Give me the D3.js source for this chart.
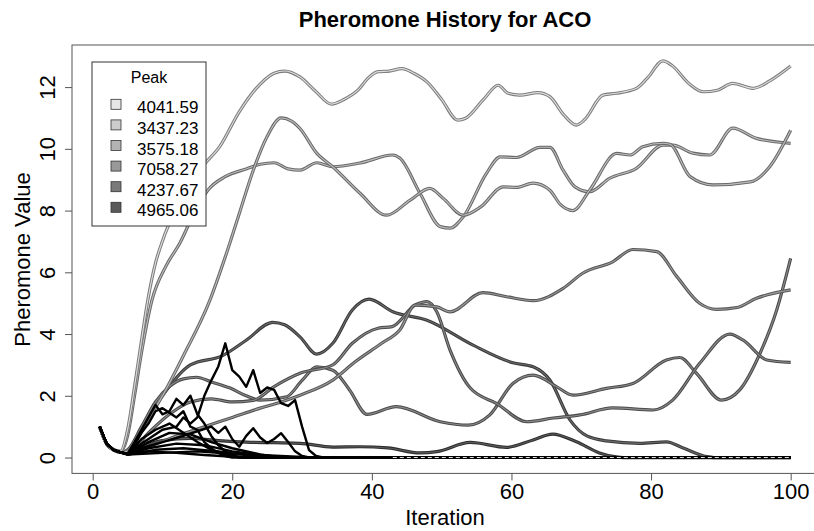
<!DOCTYPE html>
<html>
<head>
<meta charset="utf-8">
<script src="https://cdn.jsdelivr.net/npm/d3@7"></script>
<style>
  body { margin: 0; background: #fff; }
  text { font-family: "Liberation Sans", Arial, Helvetica, sans-serif; }
</style>
</head>
<body>
<div id="chart"></div>
<script>
// [iteration, pheromone] pairs
const topSeries = [[1,1],[2,.45],[3,.25],[4,.2],[5,.9],[6,2.3],[7,3.8],[7.9,5.1],[9,6.3],[9.9,6.95],[11,7.6],[12.5,8.3],[14,8.9],[16,9.5],[18.2,10.07],[21,11.2],[24,12.1],[26,12.45],[27.5,12.52],[29.7,12.33],[32,11.85],[34.2,11.45],[36,11.6],[38,11.9],[39.5,12.3],[40.9,12.5],[42.5,12.52],[44.3,12.6],[46,12.45],[47.9,12.17],[50,11.6],[52.3,10.93],[53.5,11.0],[56,11.6],[58.1,12.06],[59.5,11.8],[61.2,11.74],[63.8,11.82],[65.5,11.69],[67.5,11.1],[69.3,10.77],[70.5,10.95],[73.1,11.74],[75,11.8],[77.9,11.96],[79.5,12.3],[81.7,12.85],[83,12.7],[85.5,12.1],[87.5,11.85],[89.5,11.9],[91.7,12.12],[94.6,11.96],[97,12.2],[100,12.68]];
const secondSeries = [[1,1],[2,.45],[3,.25],[4,.18],[5,.2],[7,.9],[10,2.0],[13,3.3],[16.8,5.1],[19,6.5],[21,7.9],[23,9.3],[25,10.4],[27,11.0],[28.5,10.9],[29.7,10.66],[32.1,9.86],[34.4,9.42],[38.3,8.56],[42.1,7.85],[45.5,8.34],[48.3,8.72],[50.2,8.4],[53.1,7.85],[55.6,8.12],[58.8,8.77],[60.7,8.75],[63.1,8.89],[65.5,8.66],[67,8.2],[68.8,8.0],[71.2,8.66],[75.1,9.85],[77,9.8],[78.8,10.07],[81.7,10.18],[82.7,10.15],[85.6,9.1],[88.9,8.83],[94.2,8.93],[97,9.42],[100,10.6]];
const thirdSeries = [[1,1],[2,.45],[3,.25],[4,.2],[5,.7],[6,2.0],[7,3.4],[8.5,5.1],[10.5,6.2],[12.5,6.95],[14.5,7.9],[16.5,8.66],[19,9.1],[22,9.35],[24,9.5],[26,9.55],[28,9.35],[29.7,9.31],[32.1,9.55],[34.4,9.42],[38.3,9.54],[43,9.8],[44,9.7],[46.9,8.56],[49.8,7.48],[51.2,7.43],[53.1,7.8],[56.4,9.2],[58.4,9.74],[60.7,9.72],[64.1,10.05],[65.5,10.05],[67.4,9.31],[69.1,8.77],[71.2,8.61],[74.1,9.05],[77.9,9.37],[81.7,10.12],[83.1,10.12],[86,9.86],[88.4,9.8],[91.7,10.67],[95.1,10.34],[100,10.18]];
const midSeriesC = [[1,1],[2,.45],[3,.25],[4,.17],[5,.12],[8,.35],[12,.7],[16,1.0],[20,1.3],[24,1.6],[27,1.8],[29.7,2.02],[34.4,2.51],[37.6,3.1],[41.4,3.7],[44,4.13],[46.2,4.94],[49.3,4.88],[51.2,4.72],[55.9,5.34],[59.3,5.21],[63.1,5.08],[67.4,5.48],[70.2,5.97],[74.5,6.34],[77.4,6.74],[80.8,6.67],[83.7,5.86],[87,4.99],[89.4,4.8],[92.3,4.86],[95.1,5.16],[100,5.43]];
const midSeriesB = [[1,1],[2,.45],[3,.25],[4,.17],[5,.15],[8,.8],[11,1.4],[14,1.8],[17,1.9],[20,1.8],[23,1.85],[26,2.3],[29.7,2.73],[34.4,3.0],[37.2,3.7],[40.9,4.19],[42.9,4.24],[46.2,4.94],[47.9,5.05],[49.3,4.72],[51.2,3.48],[54.1,2.25],[57.9,1.75],[62.2,1.16],[66,1.28],[69.8,1.38],[74.5,1.61],[80.3,1.54],[83.1,1.86],[87,3.06],[91.3,4.0],[93.2,3.8],[96.6,3.16],[100,3.08]];
const midSeriesD = [[1,1],[2,.45],[3,.25],[4,.17],[5,.25],[7,1.0],[9,1.8],[11,2.3],[13,2.55],[14.9,2.6],[17,2.45],[19.7,2.25],[22,2.0],[24,1.86],[27.8,1.97],[30,2.5],[32.1,2.94],[34.4,2.83],[36.8,2.19],[39.3,1.40],[43.5,1.65],[49.8,1.16],[53.8,1.05],[56.9,1.38],[60.2,2.40],[63.1,2.67],[66.5,2.29],[68.8,2.02],[73.6,2.24],[77.4,2.40],[82.2,3.16],[84.1,3.24],[86.5,2.73],[90.1,1.86],[92.7,2.19],[95.6,3.37],[98,4.78],[100,6.45]];
const darkSeriesA = [[1,1],[2,.45],[3,.25],[4,.17],[5,.2],[7,.9],[10,2.0],[14,3.0],[18.6,3.3],[22,3.8],[25.8,4.38],[27.5,4.3],[29.7,3.91],[32.1,3.35],[34.4,3.7],[37.2,4.78],[39.6,5.13],[43,4.72],[47.9,4.45],[54.5,3.64],[60.2,3.07],[63.1,2.94],[65.5,2.51],[68.4,1.21],[70.8,.70],[73.6,.54],[78.4,.46],[82.2,.51],[84.6,.31],[87.96,.03],[89,0],[100,0]];
const darkSeriesE = [[1,1],[2,.45],[3,.25],[4,.17],[5,.15],[7,.35],[10,.55],[14,.62],[18,.55],[22,.5],[26,.48],[29.7,.46],[34.4,.34],[38.3,.35],[42.3,.31],[46.9,.15],[49.3,.19],[54.1,.49],[59.3,.33],[63.1,.57],[65.9,.76],[69.3,.51],[72.6,.15],[75,.02],[76,0],[100,0]];

const blackSeries1 = [[1,1],[2,.45],[3,.25],[4,.17],[5,.12],[6,.3],[8,.6],[10,.9],[12,1.0],[13,1.3],[14,1.1],[15,1.3],[16,2.0],[17,2.5],[18,2.95],[19,3.7],[20,2.83],[21,2.62],[22,2.29],[23,2.83],[24,2.09],[25,2.27],[26,2.19],[27,1.76],[28,1.67],[29,1.86],[30,1.0],[31,.24],[32,.05],[33,0],[100,0]];
const blackSeries2 = [[1,1],[2,.45],[3,.25],[4,.17],[5,.12],[6,.5],[7,.9],[8,1.3],[9,1.7],[10,1.4],[11,1.5],[12,1.9],[13,1.7],[14,2.0],[15,1.4],[16,1.1],[17,.7],[18,.4],[19,.2],[20,.08],[21,0],[100,0]];
const blackSeries3 = [[1,1],[2,.45],[3,.25],[4,.17],[5,.12],[6,.4],[7,.8],[8,1.1],[9,1.5],[10,1.6],[11,1.45],[12,1.3],[13,1.5],[14,1.0],[15,.9],[16,.5],[17,.3],[18,.15],[19,.05],[20,0],[100,0]];
const blackSeries4 = [[1,1],[2,.45],[3,.25],[4,.17],[5,.12],[7,.3],[10,.5],[13,.7],[15,.85],[17,1.0],[18,.8],[19,1.0],[20,.6],[21,.35],[22,.7],[23,.95],[24,.65],[25,.47],[26,.6],[27,.79],[28,.5],[29,.2],[30,.05],[31,0],[100,0]];
const blackSeries5 = [[1,1],[2,.45],[3,.25],[4,.17],[5,.12],[8,.5],[11,.8],[14,.75],[17,.5],[20,.3],[24,.1],[27,0],[100,0]];
const blackSeries6 = [[1,1],[2,.45],[3,.25],[4,.17],[5,.1],[8,.3],[12,.45],[16,.4],[20,.2],[25,.05],[28,0],[100,0]];
const blackSeries7 = [[1,1],[2,.45],[3,.25],[4,.17],[5,.1],[9,.25],[13,.3],[18,.2],[23,.05],[26,0],[100,0]];
const blackSeries8 = [[1,1],[2,.45],[3,.25],[4,.17],[5,.1],[7,.6],[9,.9],[11,1.1],[13,.8],[15,.5],[17,.25],[20,.05],[22,0],[100,0]];
const blackSeries9 = [[1,1],[2,.45],[3,.25],[4,.17],[5,.1],[10,.15],[15,.2],[20,.12],[30,.02],[35,0],[43,0],[100,0]];
const blackSeries10 = [[1,1],[2,.45],[3,.25],[4,.17],[5,.1],[8,.2],[12,.15],[16,.08],[22,0],[100,0]];

const xTicks = [0, 20, 40, 60, 80, 100];
const yTicks = [0, 2, 4, 6, 8, 10, 12];
const legendLabels = ['4041.59', '3437.23', '3575.18', '7058.27', '4237.67', '4965.06'];
const legendFills = ['#e6e6e6', '#cccccc', '#b3b3b3', '#999999', '#7a7a7a', '#5a5a5a'];

// smooth lines drawn as a dark casing with a lighter core, like the original
const smoothLines = [
  { data: darkSeriesE, outer: '#2e2e2e', inner: '#5a5a5a' },
  { data: darkSeriesA, outer: '#3a3a3a', inner: '#6a6a6a' },
  { data: midSeriesD, outer: '#4a4a4a', inner: '#8a8a8a' },
  { data: midSeriesB, outer: '#4a4a4a', inner: '#8a8a8a' },
  { data: midSeriesC, outer: '#555555', inner: '#9a9a9a' },
  { data: thirdSeries, outer: '#6a6a6a', inner: '#bdbdbd' },
  { data: secondSeries, outer: '#6a6a6a', inner: '#bdbdbd' },
  { data: topSeries, outer: '#7d7d7d', inner: '#dedede' }
];
const blackLines = [blackSeries10, blackSeries9, blackSeries7, blackSeries6, blackSeries5,
  blackSeries8, blackSeries4, blackSeries3, blackSeries2, blackSeries1];

function drawChart() {
  const width = 814, height = 531;
  const svg = d3.select('#chart').append('svg').attr('width', width).attr('height', height);

  // R style 4% padding around the data range
  const x = d3.scaleLinear().domain([-2.96, 103.96]).range([72, 818.3]);
  const y = d3.scaleLinear().domain([-0.514, 13.364]).range([473.4, 45]);

  svg.append('clipPath').attr('id', 'plotclip')
    .append('rect').attr('x', 72).attr('y', 45).attr('width', 746).attr('height', 428.4);

  const plot = svg.append('g').attr('clip-path', 'url(#plotclip)');

  const smooth = d3.line().x(d => x(d[0])).y(d => y(d[1])).curve(d3.curveMonotoneX);
  const jagged = d3.line().x(d => x(d[0])).y(d => y(d[1]));

  smoothLines.forEach(s => {
    plot.append('path').attr('d', smooth(s.data)).attr('fill', 'none')
      .attr('stroke', s.outer).attr('stroke-width', 3.2).attr('stroke-linejoin', 'round');
    plot.append('path').attr('d', smooth(s.data)).attr('fill', 'none')
      .attr('stroke', s.inner).attr('stroke-width', 1.1).attr('stroke-linejoin', 'round');
  });

  blackLines.forEach(s => {
    plot.append('path').attr('d', jagged(s)).attr('fill', 'none')
      .attr('stroke', '#000').attr('stroke-width', 2.4).attr('stroke-linejoin', 'round');
  });

  // the long flat tail at zero shows a broken light core in the original
  const tail = blackSeries9.filter(d => d[0] >= 43);
  plot.append('path').attr('d', jagged(tail)).attr('fill', 'none')
    .attr('stroke', '#fff').attr('stroke-width', 0.9).attr('stroke-dasharray', '4,3');

  // frame
  svg.append('rect').attr('x', 72).attr('y', 45).attr('width', 746).attr('height', 428.4)
    .attr('fill', 'none').attr('stroke', '#555').attr('stroke-width', 1);

  // x axis
  const xAxis = svg.append('g').attr('transform', 'translate(0,473.4)')
    .call(d3.axisBottom(x).tickValues(xTicks).tickSize(7).tickSizeOuter(0));
  xAxis.select('.domain').remove();
  xAxis.selectAll('line').attr('stroke', '#555');
  xAxis.selectAll('text').attr('y', 26).attr('dy', 0)
    .style('font-size', '22px').attr('fill', '#000');

  // y axis, labels rotated like R's las=0
  const yAxis = svg.append('g').attr('transform', 'translate(72,0)')
    .call(d3.axisLeft(y).tickValues(yTicks).tickSize(7).tickSizeOuter(0));
  yAxis.select('.domain').remove();
  yAxis.selectAll('line').attr('stroke', '#555');
  yAxis.selectAll('text').attr('x', 0).attr('y', -17).attr('dy', 0)
    .attr('transform', 'rotate(-90)').attr('text-anchor', 'middle')
    .style('font-size', '22px').attr('fill', '#000');

  svg.append('text').attr('x', 445).attr('y', 27).attr('text-anchor', 'middle')
    .style('font-size', '22px').style('font-weight', 'bold')
    .text('Pheromone History for ACO');

  svg.append('text').attr('x', 445).attr('y', 525).attr('text-anchor', 'middle')
    .style('font-size', '22px').text('Iteration');

  svg.append('text').attr('transform', 'translate(30,259.5) rotate(-90)')
    .attr('text-anchor', 'middle').style('font-size', '22px').text('Pheromone Value');

  // legend
  const legend = svg.append('g');
  legend.append('rect').attr('x', 92).attr('y', 62).attr('width', 114).attr('height', 164)
    .attr('fill', '#fff').attr('stroke', '#333').attr('stroke-width', 1);
  legend.append('text').attr('x', 149).attr('y', 83).attr('text-anchor', 'middle')
    .style('font-size', '16px').text('Peak');
  legendLabels.forEach((label, i) => {
    const base = 113.3 + i * 20.6;
    legend.append('rect').attr('x', 111).attr('y', base - 14).attr('width', 10).attr('height', 10)
      .attr('fill', legendFills[i]).attr('stroke', '#333').attr('stroke-width', 0.8);
    legend.append('text').attr('x', 137).attr('y', base)
      .style('font-size', '17px').text(label);
  });
}

drawChart();
</script>
</body>
</html>
